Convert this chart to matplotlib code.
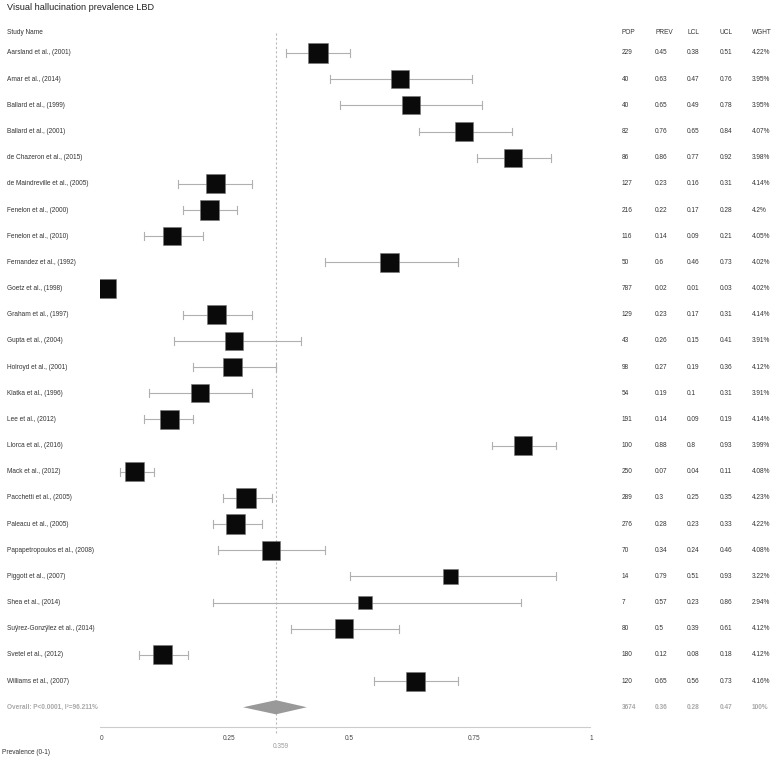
import matplotlib
matplotlib.use("Agg")
import matplotlib.pyplot as plt
from matplotlib.patches import Polygon
from matplotlib.transforms import blended_transform_factory

plt.rcParams["font.family"] = ["Liberation Sans", "DejaVu Sans"]

# study table
studies = [
    "Aarsland et al., (2001)", "Amar et al., (2014)", "Ballard et al., (1999)",
    "Ballard et al., (2001)", "de Chazeron et al., (2015)", "de Maindreville et al., (2005)",
    "Fenelon et al., (2000)", "Fenelon et al., (2010)", "Fernandez et al., (1992)",
    "Goetz et al., (1998)", "Graham et al., (1997)", "Gupta et al., (2004)",
    "Holroyd et al., (2001)", "Klatka et al., (1996)", "Lee et al., (2012)",
    "Llorca et al., (2016)", "Mack et al., (2012)", "Pacchetti et al., (2005)",
    "Paleacu et al., (2005)", "Papapetropoulos et al., (2008)", "Piggott et al., (2007)",
    "Shea et al., (2014)", "Suÿrez-Gonzÿlez et al., (2014)", "Svetel et al., (2012)",
    "Williams et al., (2007)",
]
pop = [229, 40, 40, 82, 86, 127, 216, 116, 50, 787, 129, 43, 98, 54, 191, 100,
       250, 289, 276, 70, 14, 7, 80, 180, 120]
prev = ["0.45", "0.63", "0.65", "0.76", "0.86", "0.23", "0.22", "0.14", "0.6", "0.02",
        "0.23", "0.26", "0.27", "0.19", "0.14", "0.88", "0.07", "0.3", "0.28", "0.34",
        "0.79", "0.57", "0.5", "0.12", "0.65"]
lcl = [0.38, 0.47, 0.49, 0.65, 0.77, 0.16, 0.17, 0.09, 0.46, 0.01, 0.17, 0.15, 0.19,
       0.1, 0.09, 0.8, 0.04, 0.25, 0.23, 0.24, 0.51, 0.23, 0.39, 0.08, 0.56]
ucl = [0.51, 0.76, 0.78, 0.84, 0.92, 0.31, 0.28, 0.21, 0.73, 0.03, 0.31, 0.41, 0.36,
       0.31, 0.19, 0.93, 0.11, 0.35, 0.33, 0.46, 0.93, 0.86, 0.61, 0.18, 0.73]
wght = [4.22, 3.95, 3.95, 4.07, 3.98, 4.14, 4.2, 4.05, 4.02, 4.02, 4.14, 3.91, 4.12,
        3.91, 4.14, 3.99, 4.08, 4.23, 4.22, 4.08, 3.22, 2.94, 4.12, 4.12, 4.16]
# marker positions as drawn in the plot
est_plot = [0.445, 0.612, 0.635, 0.743, 0.843, 0.235, 0.224, 0.147, 0.591, 0.014,
            0.237, 0.274, 0.271, 0.204, 0.141, 0.864, 0.071, 0.298, 0.276, 0.349,
            0.716, 0.541, 0.498, 0.127, 0.643]

overall_label = "Overall: P<0.0001, I²=96.211%"
overall_vals = ["3674", "0.36", "0.28", "0.47", "100%"]
pooled = 0.359
diamond_lo, diamond_hi = 0.292, 0.422

fig = plt.figure(figsize=(7.74, 7.61), dpi=100)
W, H = 774, 761
row0, step = 53, 26.17
ytop, ybot = 20, 727
ax = fig.add_axes([100 / W, 1 - ybot / H, 490 / W, (ybot - ytop) / H])
ax.set_xlim(0, 1)
ax.set_ylim((ybot - row0) / step, (ytop - row0) / step)

fs = 4.7
txt = "#333333"
grey = "#a8a8a8"
n = len(studies)
rows = list(range(n))

# CI whiskers
for i in rows:
    ax.plot([lcl[i], ucl[i]], [i, i], color="#b0b0b0", lw=0.8, zorder=2)
    for v in (lcl[i], ucl[i]):
        ax.plot([v, v], [i - 0.15, i + 0.15], color="#b0b0b0", lw=0.8, zorder=2)

# squares sized by weight
sizes = [(3.29 * w) ** 2 for w in wght]
ax.scatter(est_plot, rows, s=sizes, marker="s", color="#0a0a0a",
           edgecolors="#777777", linewidths=0.4, zorder=3)

# pooled diamond
dh = 0.27
ax.add_patch(Polygon([(diamond_lo, n), (pooled, n - dh), (diamond_hi, n), (pooled, n + dh)],
                     closed=True, facecolor="#999999", edgecolor="none", zorder=3))

# pooled reference line
ax.vlines(pooled, -0.76, (733 - row0) / step, colors="#bbbbbb", lw=0.8,
          linestyles=(0, (2, 2)), clip_on=False, zorder=1)
ax.text(pooled - 0.006, (747 - row0) / step, "0.359", fontsize=fs, color="#999999",
        ha="left", va="center", clip_on=False)

# axis
for s in ("top", "left", "right"):
    ax.spines[s].set_visible(False)
ax.spines["bottom"].set_color("#cccccc")
ax.spines["bottom"].set_linewidth(0.8)
ax.set_yticks([])
ax.set_xticks([0, 0.25, 0.5, 0.75, 1])
ax.set_xticklabels(["0", "0.25", "0.5", "0.75", "1"])
ax.tick_params(axis="x", length=0, pad=6, labelsize=fs, labelcolor="#444444")
for lbl in ax.get_xticklabels():
    lbl.set_ha("left")

# text table
tr = blended_transform_factory(fig.transFigure, ax.transData)
col_x = [622, 655, 687, 720, 752]
headers = ["POP", "PREV", "LCL", "UCL", "WGHT"]
hy = (33 - row0) / step
ax.text(7 / W, hy, "Study Name", transform=tr, fontsize=fs, color=txt, va="center", clip_on=False)
for cx, h in zip(col_x, headers):
    ax.text(cx / W, hy, h, transform=tr, fontsize=fs, color=txt, va="center", clip_on=False)

for i in rows:
    vals = [str(pop[i]), prev[i], f"{lcl[i]:g}", f"{ucl[i]:g}", f"{wght[i]:g}%"]
    ax.text(7 / W, i, studies[i], transform=tr, fontsize=fs, color=txt, va="center", clip_on=False)
    for cx, v in zip(col_x, vals):
        ax.text(cx / W, i, v, transform=tr, fontsize=fs, color=txt, va="center", clip_on=False)

ax.text(7 / W, n, overall_label, transform=tr, fontsize=fs, color=grey,
        fontweight="bold", va="center", clip_on=False)
for cx, v in zip(col_x, overall_vals):
    ax.text(cx / W, n, v, transform=tr, fontsize=fs, color=grey,
            fontweight="bold", va="center", clip_on=False)

fig.text(7 / W, 1 - 8 / H, "Visual hallucination prevalence LBD", fontsize=6.6,
         color="#222222", va="center", ha="left")
fig.text(2 / W, 1 - 752 / H, "Prevalence (0-1)", fontsize=fs, color=txt, va="center", ha="left")

fig.savefig("out.png", dpi=100)
